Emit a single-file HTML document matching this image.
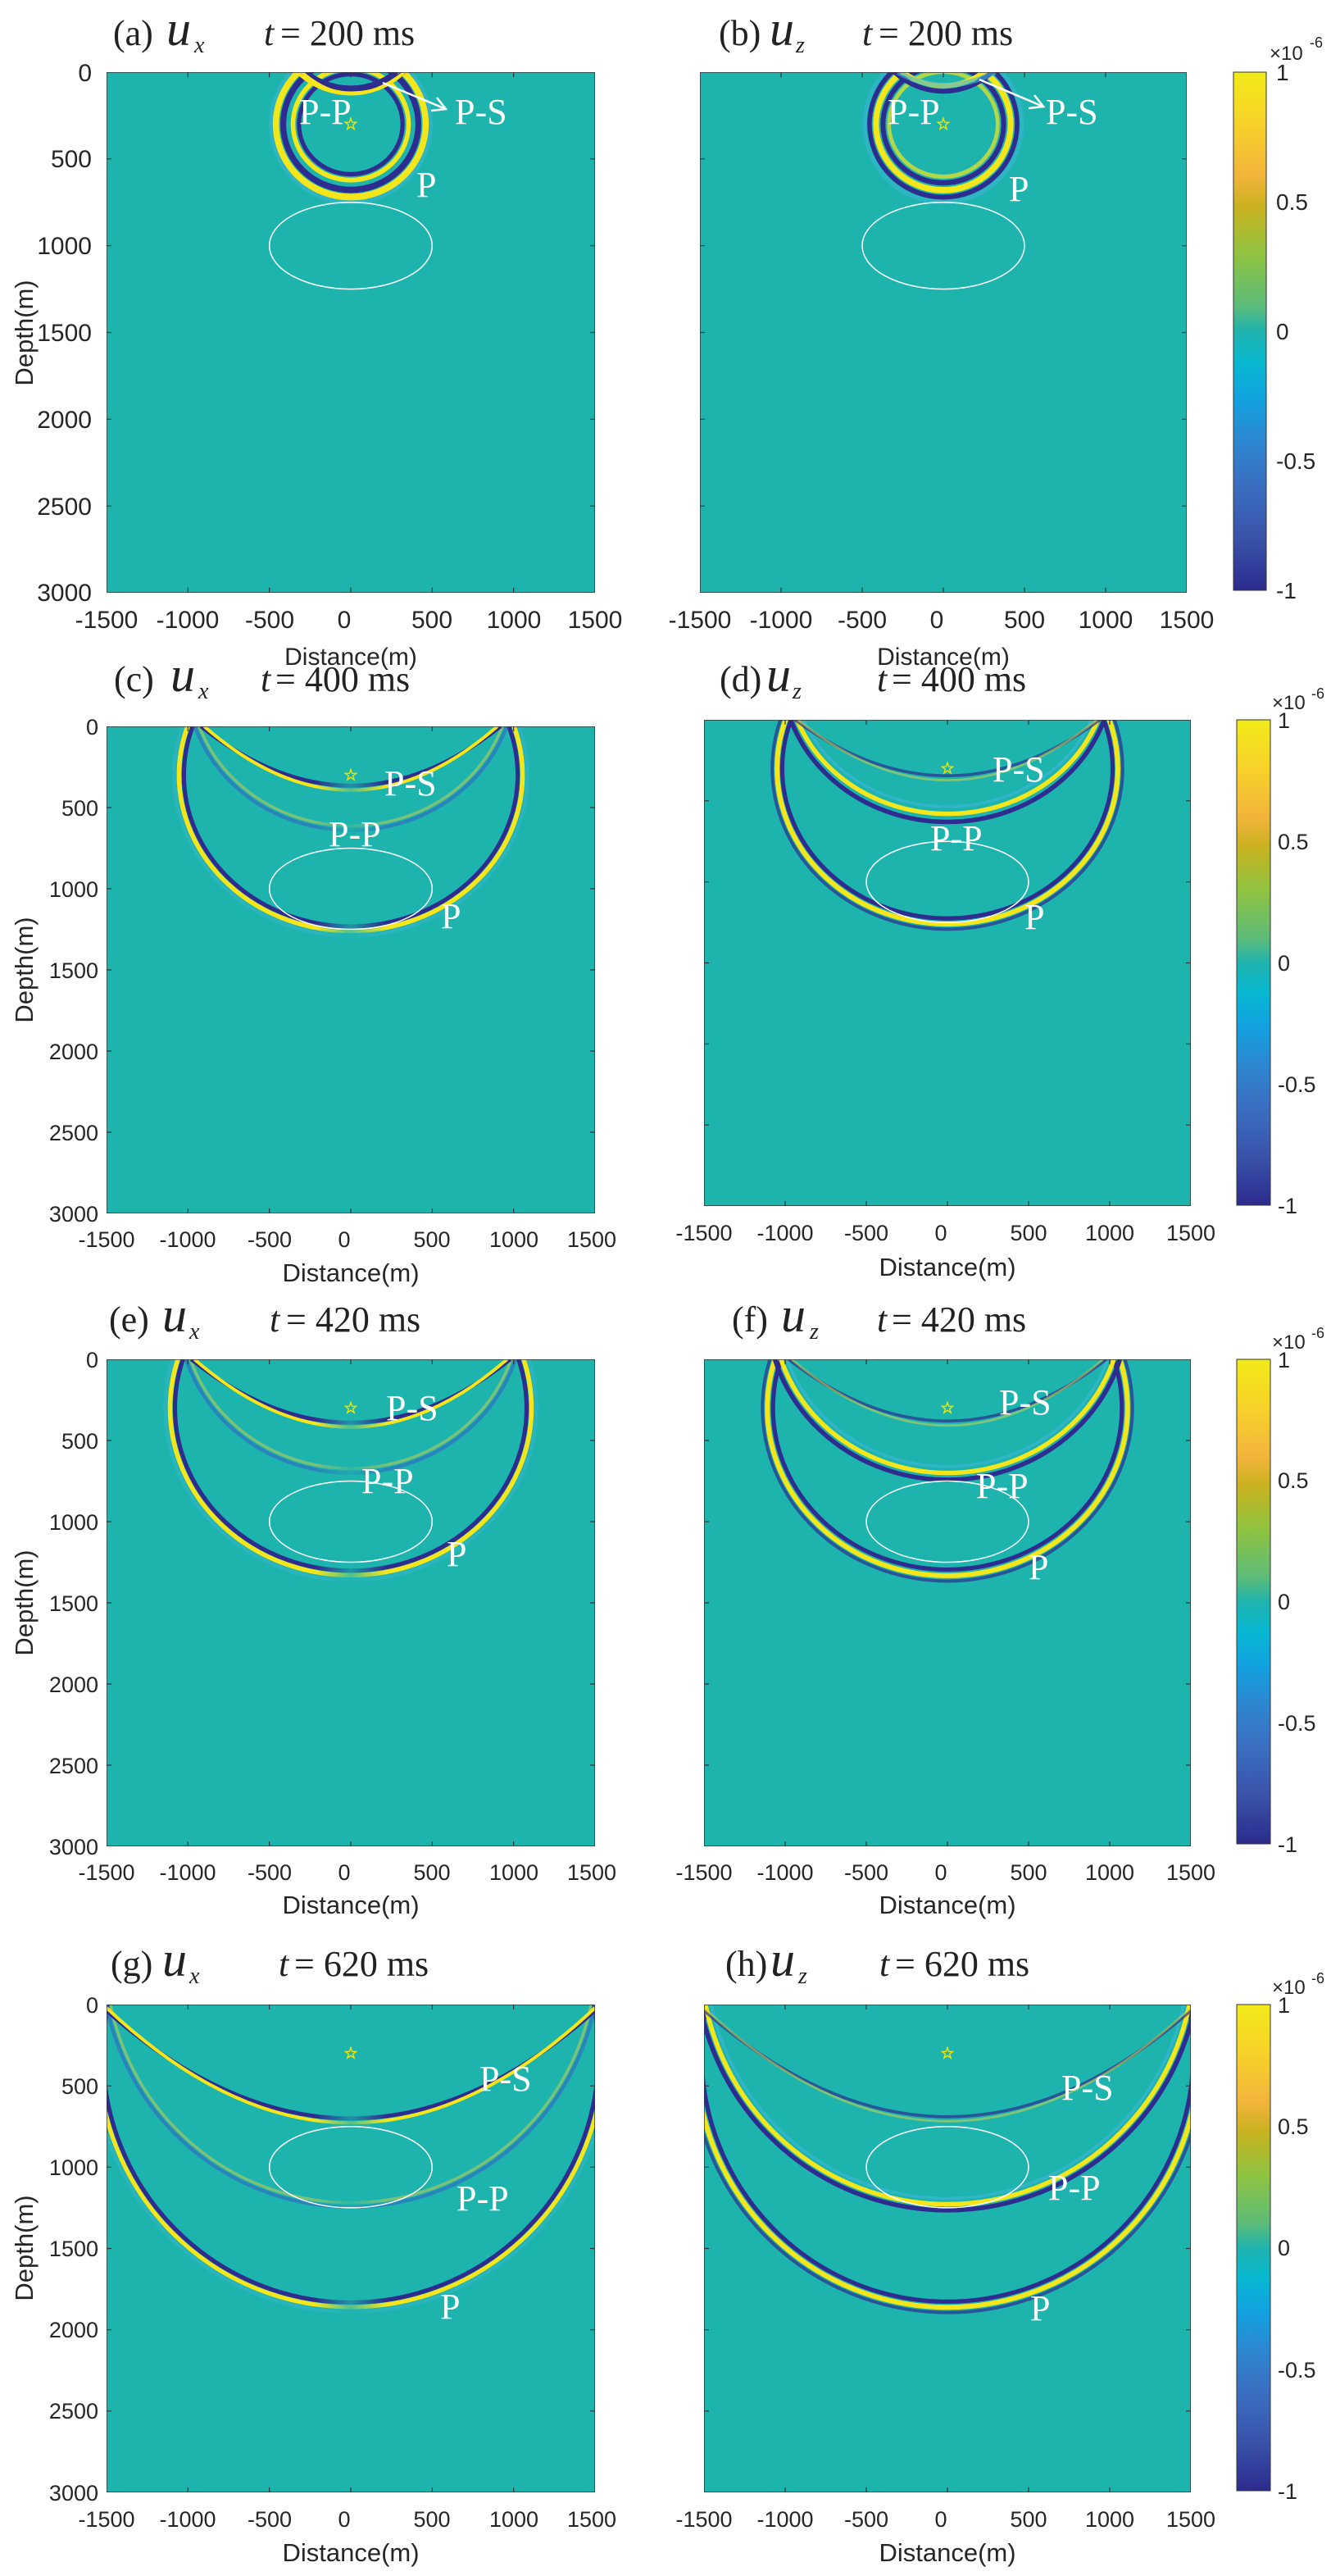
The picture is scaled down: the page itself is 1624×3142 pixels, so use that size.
<!DOCTYPE html>
<html><head><meta charset="utf-8"><style>
html,body{margin:0;padding:0;background:#fff}
svg{display:block}
.tk{font-family:"Liberation Sans",sans-serif;fill:#262626}
.tt{font-family:"Liberation Serif",serif;fill:#222}
.wl{font-family:"Liberation Serif",serif;fill:#fff;font-size:44px}
</style></head><body>
<svg width="1624" height="3142" viewBox="0 0 1624 3142" xmlns="http://www.w3.org/2000/svg">
<defs>
<linearGradient id="cb" x1="0" y1="0" x2="0" y2="1">
<stop offset="0" stop-color="#f2ea18"/><stop offset="0.1" stop-color="#f7d22a"/><stop offset="0.2" stop-color="#f3b43c"/><stop offset="0.26" stop-color="#c9b11e"/><stop offset="0.35" stop-color="#90c340"/><stop offset="0.45" stop-color="#5cbc78"/><stop offset="0.5" stop-color="#20b3ae"/><stop offset="0.56" stop-color="#07b8d0"/><stop offset="0.63" stop-color="#12a2e0"/><stop offset="0.72" stop-color="#2f84cf"/><stop offset="0.8" stop-color="#3b6ec0"/><stop offset="0.9" stop-color="#3953a8"/><stop offset="1" stop-color="#2c2b8c"/>
</linearGradient>
<linearGradient id="fade" x1="0" y1="0" x2="1" y2="0">
<stop offset="0" stop-color="#1db4ae" stop-opacity="0"/><stop offset="0.5" stop-color="#1db4ae" stop-opacity="0.75"/><stop offset="1" stop-color="#1db4ae" stop-opacity="0"/>
</linearGradient>
<path id="tks" d="M-1000 0v30M-500 0v30M0 0v30M500 0v30M1000 0v30M-1000 3000v-30M-500 3000v-30M0 3000v-30M500 3000v-30M1000 3000v-30M-1500 500h30M-1500 1000h30M-1500 1500h30M-1500 2000h30M-1500 2500h30M1500 500h-30M1500 1000h-30M1500 1500h-30M1500 2000h-30M1500 2500h-30" fill="none" stroke="#333" stroke-width="1.2" vector-effect="non-scaling-stroke"/>
<polygon id="star" points="0,265 8.2,288.7 33.3,289.2 13.3,304.3 20.6,328.3 0,314 -20.6,328.3 -13.3,304.3 -33.3,289.2 -8.2,288.7" fill="none" stroke="#f0e400" stroke-width="1.4" vector-effect="non-scaling-stroke"/>
<g id="over">
<ellipse cx="0" cy="1000" rx="500" ry="250" fill="none" stroke="#fff" stroke-width="1.5" vector-effect="non-scaling-stroke"/>
<use href="#star"/>
<rect x="-1500" y="0" width="3000" height="3000" fill="none" stroke="#333" stroke-width="1.5" vector-effect="non-scaling-stroke"/>
<use href="#tks"/>
</g>
</defs>

<!-- ===== Row a/b ===== -->
<text class="tt" x="138" y="55" font-size="44">(a)</text>
<text class="tt" x="203" y="55" font-size="60" font-style="italic">u</text>
<text class="tt" x="237" y="64" font-size="28" font-style="italic">x</text>
<text class="tt" x="322" y="55" font-size="44" font-style="italic">t</text>
<text class="tt" x="342" y="55" font-size="44">= 200 ms</text>

<text class="tt" x="877" y="55" font-size="44">(b)</text>
<text class="tt" x="939" y="55" font-size="60" font-style="italic">u</text>
<text class="tt" x="971" y="64" font-size="28" font-style="italic">z</text>
<text class="tt" x="1052" y="55" font-size="44" font-style="italic">t</text>
<text class="tt" x="1072" y="55" font-size="44">= 200 ms</text>

<svg x="130" y="88" width="596" height="635" viewBox="-1500 0 3000 3000" preserveAspectRatio="none">
<rect x="-1500" y="0" width="3000" height="3000" fill="#1db4ae"/>
<g fill="none">
<ellipse cx="0" cy="300" rx="490" ry="450" stroke="#3fb6d8" stroke-width="25" opacity=".5"/>
<ellipse cx="0" cy="300" rx="460" ry="420" stroke="#f5e61c" stroke-width="38"/>
<ellipse cx="0" cy="300" rx="415" ry="378" stroke="#2e2c8f" stroke-width="36"/>
<ellipse cx="0" cy="300" rx="355" ry="322" stroke="#f5e61c" stroke-width="28"/>
<ellipse cx="0" cy="300" rx="318" ry="288" stroke="#2e2c8f" stroke-width="26"/>
<ellipse cx="0" cy="-300" rx="460" ry="420" stroke="#f5e61c" stroke-width="28"/>
<ellipse cx="0" cy="-300" rx="425" ry="390" stroke="#2e2c8f" stroke-width="25"/>
<path d="M-300 0Q0 200 330 0" stroke="#2e2c8f" stroke-width="22"/>
<path d="M-300 0Q0 250 330 0" stroke="#f5e61c" stroke-width="18"/>
</g>
<use href="#over"/>
</svg>

<svg x="854" y="88" width="594" height="635" viewBox="-1500 0 3000 3000" preserveAspectRatio="none">
<rect x="-1500" y="0" width="3000" height="3000" fill="#1db4ae"/>
<g fill="none">
<ellipse cx="0" cy="300" rx="485" ry="450" stroke="#3fb6d8" stroke-width="25" opacity=".5"/>
<ellipse cx="0" cy="300" rx="455" ry="420" stroke="#2e2c8f" stroke-width="28"/>
<ellipse cx="0" cy="300" rx="415" ry="380" stroke="#f5e61c" stroke-width="36"/>
<ellipse cx="0" cy="300" rx="372" ry="338" stroke="#2e2c8f" stroke-width="30"/>
<ellipse cx="0" cy="300" rx="335" ry="302" stroke="#f5e61c" stroke-width="24" opacity=".7"/>
<ellipse cx="0" cy="-300" rx="440" ry="410" stroke="#2e2c8f" stroke-width="28"/>
<ellipse cx="0" cy="-300" rx="405" ry="378" stroke="#f5e61c" stroke-width="28"/>
<path d="M-280 0Q0 150 320 0" stroke="#3fb6d8" stroke-width="30" opacity=".6"/>
</g>
<use href="#over"/>
</svg>

<text class="wl" x="365" y="151">P-P</text>
<text class="wl" x="555" y="151">P-S</text>
<text class="wl" x="508" y="240">P</text>
<line x1="467" y1="101" x2="544" y2="133" stroke="#fff" stroke-width="2.5"/>
<polyline points="533,119 544,133 526,135" fill="none" stroke="#fff" stroke-width="2.5"/>
<text class="wl" x="1083" y="151">P-P</text>
<text class="wl" x="1276" y="151">P-S</text>
<text class="wl" x="1231" y="245">P</text>
<line x1="1195" y1="97" x2="1273" y2="130" stroke="#fff" stroke-width="2.5"/>
<polyline points="1262,116 1273,130 1255,132" fill="none" stroke="#fff" stroke-width="2.5"/>

<g class="tk" font-size="30" text-anchor="end">
<text x="112" y="99">0</text><text x="112" y="204">500</text><text x="112" y="310">1000</text><text x="112" y="416">1500</text><text x="112" y="522">2000</text><text x="112" y="628">2500</text><text x="112" y="733">3000</text>
</g>
<text class="tk" font-size="31" text-anchor="middle" transform="translate(40,406) rotate(-90)">Depth(m)</text>
<g class="tk" font-size="30" text-anchor="middle">
<text x="130" y="766">-1500</text><text x="229" y="766">-1000</text><text x="329" y="766">-500</text><text x="420" y="766">0</text><text x="527" y="766">500</text><text x="627" y="766">1000</text><text x="726" y="766">1500</text>
<text x="428" y="811">Distance(m)</text>
<text x="854" y="766">-1500</text><text x="953" y="766">-1000</text><text x="1052" y="766">-500</text><text x="1143" y="766">0</text><text x="1250" y="766">500</text><text x="1349" y="766">1000</text><text x="1448" y="766">1500</text>
<text x="1151" y="811">Distance(m)</text>
</g>
<rect x="1505" y="88" width="40" height="632" fill="url(#cb)" stroke="#333" stroke-width="1"/>
<g class="tk" font-size="28">
<text x="1557" y="98">1</text><text x="1557" y="256">0.5</text><text x="1557" y="414">0</text><text x="1557" y="572">-0.5</text><text x="1557" y="730">-1</text>
<text x="1549" y="73" font-size="24">×10</text><text x="1598" y="58" font-size="18">-6</text>
</g>

<!-- ===== Row c/d ===== -->
<text class="tt" x="139" y="843" font-size="44">(c)</text>
<text class="tt" x="208" y="843" font-size="60" font-style="italic">u</text>
<text class="tt" x="242" y="852" font-size="28" font-style="italic">x</text>
<text class="tt" x="318" y="843" font-size="44" font-style="italic">t</text>
<text class="tt" x="336" y="843" font-size="44">= 400 ms</text>

<text class="tt" x="878" y="843" font-size="44">(d)</text>
<text class="tt" x="935" y="843" font-size="60" font-style="italic">u</text>
<text class="tt" x="967" y="852" font-size="28" font-style="italic">z</text>
<text class="tt" x="1070" y="843" font-size="44" font-style="italic">t</text>
<text class="tt" x="1088" y="843" font-size="44">= 400 ms</text>

<svg x="130" y="886" width="596" height="594" viewBox="-1500 0 3000 3000" preserveAspectRatio="none">
<rect x="-1500" y="0" width="3000" height="3000" fill="#1db4ae"/>
<g fill="none">
<ellipse cx="0" cy="300" rx="1085" ry="990" stroke="#3fb6d8" stroke-width="22" opacity=".4"/>
<ellipse cx="0" cy="300" rx="1055" ry="960" stroke="#f5e61c" stroke-width="28"/>
<ellipse cx="0" cy="300" rx="1025" ry="932" stroke="#2e2c8f" stroke-width="26"/>
<ellipse cx="0" cy="-300" rx="1010" ry="940" stroke="#2e6fc0" stroke-width="22" opacity=".7"/>
<ellipse cx="0" cy="-300" rx="985" ry="912" stroke="#d8d040" stroke-width="18" opacity=".5"/>
<path d="M-920 0Q0 730 920 0" stroke="#2e2c8f" stroke-width="24"/>
<path d="M-900 0Q0 785 900 0" stroke="#f5e61c" stroke-width="20"/>
</g>
<rect x="-220" y="0" width="440" height="3000" fill="url(#fade)"/>
<use href="#over"/>
</svg>

<svg x="859" y="878" width="594" height="593" viewBox="-1500 0 3000 3000" preserveAspectRatio="none">
<rect x="-1500" y="0" width="3000" height="3000" fill="#1db4ae"/>
<g fill="none">
<ellipse cx="0" cy="300" rx="1080" ry="992" stroke="#2e2c8f" stroke-width="20" opacity=".7"/>
<ellipse cx="0" cy="300" rx="1050" ry="960" stroke="#f5e61c" stroke-width="30"/>
<ellipse cx="0" cy="300" rx="1018" ry="925" stroke="#2e2c8f" stroke-width="26"/>
<ellipse cx="0" cy="-300" rx="1020" ry="930" stroke="#2e2c8f" stroke-width="28"/>
<ellipse cx="0" cy="-300" rx="985" ry="880" stroke="#f5e61c" stroke-width="28"/>
<ellipse cx="0" cy="-300" rx="950" ry="835" stroke="#3fb6d8" stroke-width="18" opacity=".6"/>
<path d="M-940 0Q0 690 940 0" stroke="#2e2c8f" stroke-width="18" opacity=".7"/>
<path d="M-920 0Q0 745 920 0" stroke="#e0d840" stroke-width="14" opacity=".5"/>
</g>
<use href="#over"/>
</svg>

<text class="wl" x="469" y="970">P-S</text>
<text class="wl" x="401" y="1032">P-P</text>
<text class="wl" x="538" y="1132">P</text>
<text class="wl" x="1211" y="953">P-S</text>
<text class="wl" x="1135" y="1037">P-P</text>
<text class="wl" x="1250" y="1133">P</text>

<g class="tk" font-size="27" text-anchor="end">
<text x="120" y="896">0</text><text x="120" y="995">500</text><text x="120" y="1094">1000</text><text x="120" y="1193">1500</text><text x="120" y="1292">2000</text><text x="120" y="1391">2500</text><text x="120" y="1490">3000</text>
</g>
<text class="tk" font-size="31" text-anchor="middle" transform="translate(40,1183) rotate(-90)">Depth(m)</text>
<g class="tk" font-size="27" text-anchor="middle">
<text x="130" y="1521">-1500</text><text x="229" y="1521">-1000</text><text x="329" y="1521">-500</text><text x="420" y="1521">0</text><text x="527" y="1521">500</text><text x="627" y="1521">1000</text><text x="722" y="1521">1500</text>
<text x="428" y="1563" font-size="31">Distance(m)</text>
<text x="859" y="1513">-1500</text><text x="958" y="1513">-1000</text><text x="1057" y="1513">-500</text><text x="1148" y="1513">0</text><text x="1255" y="1513">500</text><text x="1354" y="1513">1000</text><text x="1453" y="1513">1500</text>
<text x="1156" y="1556" font-size="31">Distance(m)</text>
</g>
<rect x="1509" y="878" width="41" height="592" fill="url(#cb)" stroke="#333" stroke-width="1"/>
<g class="tk" font-size="27">
<text x="1559" y="888">1</text><text x="1559" y="1036">0.5</text><text x="1559" y="1184">0</text><text x="1559" y="1332">-0.5</text><text x="1559" y="1480">-1</text>
<text x="1552" y="865" font-size="24">×10</text><text x="1600" y="852" font-size="18">-6</text>
</g>

<!-- ===== Row e/f ===== -->
<text class="tt" x="133" y="1624" font-size="44">(e)</text>
<text class="tt" x="198" y="1624" font-size="60" font-style="italic">u</text>
<text class="tt" x="231" y="1633" font-size="28" font-style="italic">x</text>
<text class="tt" x="329" y="1624" font-size="44" font-style="italic">t</text>
<text class="tt" x="349" y="1624" font-size="44">= 420 ms</text>

<text class="tt" x="893" y="1624" font-size="44">(f)</text>
<text class="tt" x="953" y="1624" font-size="60" font-style="italic">u</text>
<text class="tt" x="988" y="1633" font-size="28" font-style="italic">z</text>
<text class="tt" x="1070" y="1624" font-size="44" font-style="italic">t</text>
<text class="tt" x="1088" y="1624" font-size="44">= 420 ms</text>

<svg x="130" y="1658" width="596" height="594" viewBox="-1500 0 3000 3000" preserveAspectRatio="none">
<rect x="-1500" y="0" width="3000" height="3000" fill="#1db4ae"/>
<g fill="none">
<ellipse cx="0" cy="300" rx="1140" ry="1060" stroke="#3fb6d8" stroke-width="22" opacity=".4"/>
<ellipse cx="0" cy="300" rx="1110" ry="1030" stroke="#f5e61c" stroke-width="28"/>
<ellipse cx="0" cy="300" rx="1080" ry="1002" stroke="#2e2c8f" stroke-width="26"/>
<ellipse cx="0" cy="-300" rx="1060" ry="1000" stroke="#2e6fc0" stroke-width="22" opacity=".7"/>
<ellipse cx="0" cy="-300" rx="1035" ry="972" stroke="#d8d040" stroke-width="18" opacity=".5"/>
<path d="M-980 0Q0 780 980 0" stroke="#2e2c8f" stroke-width="24"/>
<path d="M-960 0Q0 835 960 0" stroke="#f5e61c" stroke-width="20"/>
</g>
<rect x="-220" y="0" width="440" height="3000" fill="url(#fade)"/>
<use href="#over"/>
</svg>

<svg x="859" y="1658" width="594" height="594" viewBox="-1500 0 3000 3000" preserveAspectRatio="none">
<rect x="-1500" y="0" width="3000" height="3000" fill="#1db4ae"/>
<g fill="none">
<ellipse cx="0" cy="300" rx="1140" ry="1066" stroke="#2e2c8f" stroke-width="20" opacity=".7"/>
<ellipse cx="0" cy="300" rx="1110" ry="1033" stroke="#f5e61c" stroke-width="30"/>
<ellipse cx="0" cy="300" rx="1075" ry="995" stroke="#2e2c8f" stroke-width="26"/>
<ellipse cx="0" cy="-300" rx="1110" ry="1042" stroke="#2e2c8f" stroke-width="28"/>
<ellipse cx="0" cy="-300" rx="1075" ry="1000" stroke="#f5e61c" stroke-width="28"/>
<ellipse cx="0" cy="-300" rx="1040" ry="960" stroke="#3fb6d8" stroke-width="18" opacity=".6"/>
<path d="M-980 0Q0 760 980 0" stroke="#2e2c8f" stroke-width="18" opacity=".7"/>
<path d="M-960 0Q0 815 960 0" stroke="#e0d840" stroke-width="14" opacity=".5"/>
</g>
<use href="#over"/>
</svg>

<text class="wl" x="471" y="1732">P-S</text>
<text class="wl" x="441" y="1821">P-P</text>
<text class="wl" x="545" y="1910">P</text>
<text class="wl" x="1219" y="1725">P-S</text>
<text class="wl" x="1191" y="1827">P-P</text>
<text class="wl" x="1255" y="1926">P</text>

<g class="tk" font-size="27" text-anchor="end">
<text x="120" y="1668">0</text><text x="120" y="1767">500</text><text x="120" y="1866">1000</text><text x="120" y="1965">1500</text><text x="120" y="2064">2000</text><text x="120" y="2163">2500</text><text x="120" y="2262">3000</text>
</g>
<text class="tk" font-size="31" text-anchor="middle" transform="translate(40,1955) rotate(-90)">Depth(m)</text>
<g class="tk" font-size="27" text-anchor="middle">
<text x="130" y="2293">-1500</text><text x="229" y="2293">-1000</text><text x="329" y="2293">-500</text><text x="420" y="2293">0</text><text x="527" y="2293">500</text><text x="627" y="2293">1000</text><text x="722" y="2293">1500</text>
<text x="428" y="2334" font-size="31">Distance(m)</text>
<text x="859" y="2293">-1500</text><text x="958" y="2293">-1000</text><text x="1057" y="2293">-500</text><text x="1148" y="2293">0</text><text x="1255" y="2293">500</text><text x="1354" y="2293">1000</text><text x="1453" y="2293">1500</text>
<text x="1156" y="2334" font-size="31">Distance(m)</text>
</g>
<rect x="1509" y="1658" width="41" height="591" fill="url(#cb)" stroke="#333" stroke-width="1"/>
<g class="tk" font-size="27">
<text x="1559" y="1668">1</text><text x="1559" y="1815">0.5</text><text x="1559" y="1963">0</text><text x="1559" y="2111">-0.5</text><text x="1559" y="2259">-1</text>
<text x="1552" y="1645" font-size="24">×10</text><text x="1600" y="1632" font-size="18">-6</text>
</g>

<!-- ===== Row g/h ===== -->
<text class="tt" x="135" y="2410" font-size="44">(g)</text>
<text class="tt" x="198" y="2410" font-size="60" font-style="italic">u</text>
<text class="tt" x="231" y="2419" font-size="28" font-style="italic">x</text>
<text class="tt" x="340" y="2410" font-size="44" font-style="italic">t</text>
<text class="tt" x="359" y="2410" font-size="44">= 620 ms</text>

<text class="tt" x="885" y="2410" font-size="44">(h)</text>
<text class="tt" x="940" y="2410" font-size="60" font-style="italic">u</text>
<text class="tt" x="974" y="2419" font-size="28" font-style="italic">z</text>
<text class="tt" x="1073" y="2410" font-size="44" font-style="italic">t</text>
<text class="tt" x="1092" y="2410" font-size="44">= 620 ms</text>

<svg x="130" y="2445" width="596" height="595" viewBox="-1500 0 3000 3000" preserveAspectRatio="none">
<rect x="-1500" y="0" width="3000" height="3000" fill="#1db4ae"/>
<g fill="none">
<ellipse cx="0" cy="300" rx="1578" ry="1590" stroke="#3fb6d8" stroke-width="22" opacity=".4"/>
<ellipse cx="0" cy="300" rx="1550" ry="1560" stroke="#f5e61c" stroke-width="26"/>
<ellipse cx="0" cy="300" rx="1522" ry="1532" stroke="#2e2c8f" stroke-width="26"/>
<ellipse cx="0" cy="-300" rx="1530" ry="1545" stroke="#2e6fc0" stroke-width="22" opacity=".7"/>
<ellipse cx="0" cy="-300" rx="1505" ry="1518" stroke="#d8d040" stroke-width="18" opacity=".5"/>
<path d="M-1520 20Q0 1380 1520 20" stroke="#2e2c8f" stroke-width="24"/>
<path d="M-1500 20Q0 1435 1500 20" stroke="#f5e61c" stroke-width="20"/>
</g>
<rect x="-220" y="0" width="440" height="3000" fill="url(#fade)"/>
<use href="#over"/>
</svg>

<svg x="859" y="2445" width="594" height="595" viewBox="-1500 0 3000 3000" preserveAspectRatio="none">
<rect x="-1500" y="0" width="3000" height="3000" fill="#1db4ae"/>
<g fill="none">
<ellipse cx="0" cy="300" rx="1582" ry="1594" stroke="#2e2c8f" stroke-width="20" opacity=".7"/>
<ellipse cx="0" cy="300" rx="1550" ry="1562" stroke="#f5e61c" stroke-width="30"/>
<ellipse cx="0" cy="300" rx="1515" ry="1527" stroke="#2e2c8f" stroke-width="26"/>
<ellipse cx="0" cy="-300" rx="1555" ry="1565" stroke="#2e2c8f" stroke-width="28"/>
<ellipse cx="0" cy="-300" rx="1520" ry="1528" stroke="#f5e61c" stroke-width="28"/>
<ellipse cx="0" cy="-300" rx="1485" ry="1492" stroke="#3fb6d8" stroke-width="18" opacity=".6"/>
<path d="M-1520 20Q0 1360 1520 20" stroke="#2e2c8f" stroke-width="18" opacity=".7"/>
<path d="M-1500 20Q0 1415 1500 20" stroke="#e0d840" stroke-width="14" opacity=".5"/>
</g>
<use href="#over"/>
</svg>

<text class="wl" x="585" y="2550">P-S</text>
<text class="wl" x="557" y="2696">P-P</text>
<text class="wl" x="537" y="2828">P</text>
<text class="wl" x="1295" y="2561">P-S</text>
<text class="wl" x="1279" y="2683">P-P</text>
<text class="wl" x="1257" y="2830">P</text>

<g class="tk" font-size="27" text-anchor="end">
<text x="120" y="2455">0</text><text x="120" y="2554">500</text><text x="120" y="2653">1000</text><text x="120" y="2752">1500</text><text x="120" y="2851">2000</text><text x="120" y="2950">2500</text><text x="120" y="3050">3000</text>
</g>
<text class="tk" font-size="31" text-anchor="middle" transform="translate(40,2742) rotate(-90)">Depth(m)</text>
<g class="tk" font-size="27" text-anchor="middle">
<text x="130" y="3082">-1500</text><text x="229" y="3082">-1000</text><text x="329" y="3082">-500</text><text x="420" y="3082">0</text><text x="527" y="3082">500</text><text x="627" y="3082">1000</text><text x="722" y="3082">1500</text>
<text x="428" y="3124" font-size="31">Distance(m)</text>
<text x="859" y="3082">-1500</text><text x="958" y="3082">-1000</text><text x="1057" y="3082">-500</text><text x="1148" y="3082">0</text><text x="1255" y="3082">500</text><text x="1354" y="3082">1000</text><text x="1453" y="3082">1500</text>
<text x="1156" y="3124" font-size="31">Distance(m)</text>
</g>
<rect x="1509" y="2445" width="41" height="593" fill="url(#cb)" stroke="#333" stroke-width="1"/>
<g class="tk" font-size="27">
<text x="1559" y="2455">1</text><text x="1559" y="2603">0.5</text><text x="1559" y="2751">0</text><text x="1559" y="2900">-0.5</text><text x="1559" y="3048">-1</text>
<text x="1552" y="2432" font-size="24">×10</text><text x="1600" y="2419" font-size="18">-6</text>
</g>
</svg>
</body></html>
